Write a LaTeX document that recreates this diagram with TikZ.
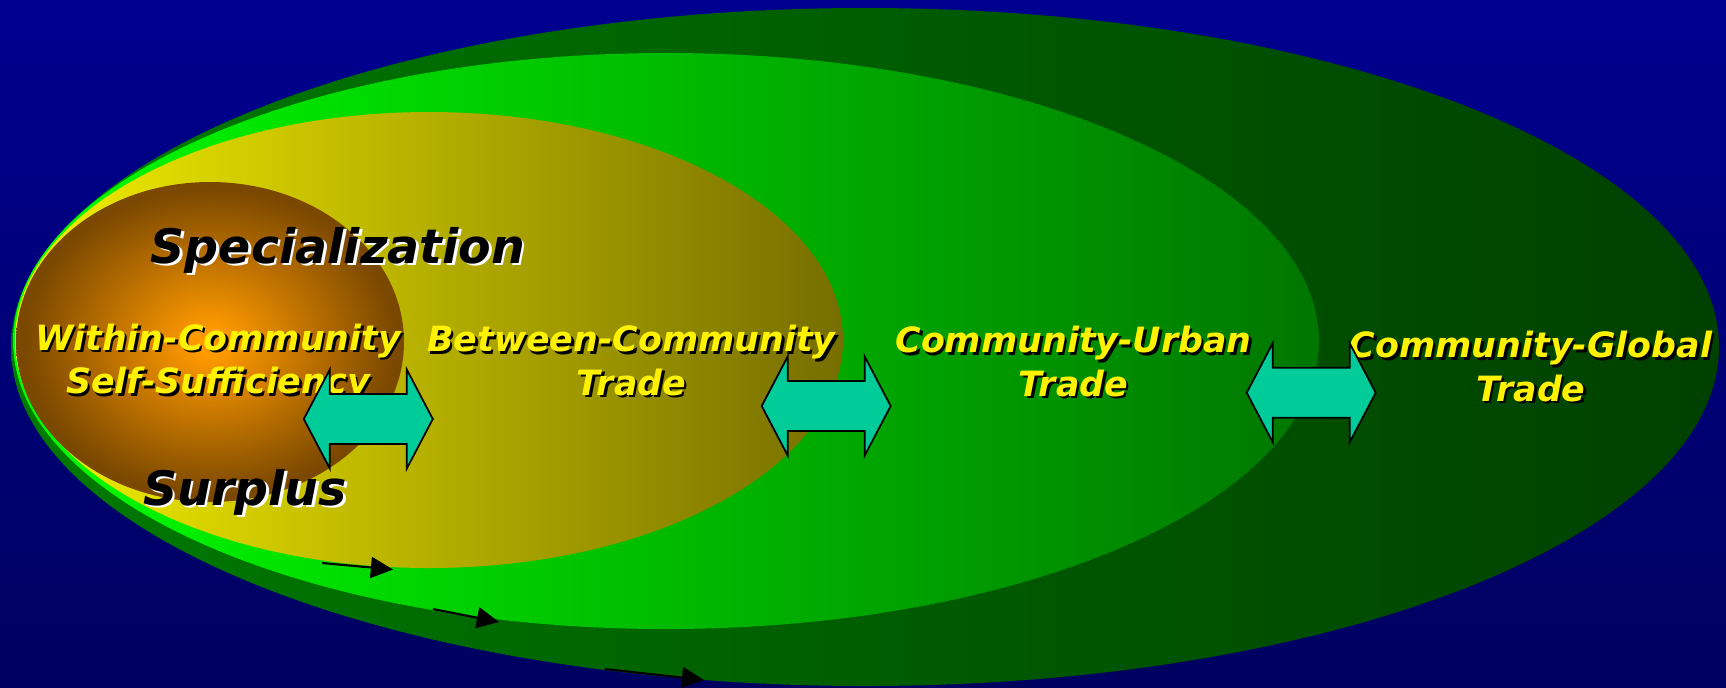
\documentclass[tikz,border=0pt]{standalone}
\usepackage{fontspec}
\usetikzlibrary{arrows.meta}
\newfontfamily\vfont{DejaVu Sans}
\definecolor{bgtop}{RGB}{0,0,144}
\definecolor{bgbot}{RGB}{0,0,96}
\definecolor{gOneL}{RGB}{0,122,0}
\definecolor{gOneR}{RGB}{0,64,0}
\definecolor{gTwoL}{RGB}{0,255,0}
\definecolor{gTwoR}{RGB}{0,118,0}
\definecolor{yThreeL}{RGB}{245,240,0}
\definecolor{yThreeR}{RGB}{118,110,0}
\definecolor{orc}{RGB}{255,154,0}
\definecolor{brn}{RGB}{122,72,0}
\definecolor{tealfill}{RGB}{0,204,153}
\pgfdeclareradialshading{brownball}{\pgfpoint{0bp}{0bp}}{color(0bp)=(orc); color(2bp)=(orc); color(24bp)=(brn); color(25bp)=(brn); color(50bp)=(brn)}
\newcommand{\tradearrow}[2]{%
  \draw[tradearr, shift={(#1,#2)}] (-64.5,0) -- (-38.5,-49.5) -- (-38.5,-25) -- (38.5,-25) -- (38.5,-49.5) -- (64.5,0) -- (38.5,49.5) -- (38.5,25) -- (-38.5,25) -- (-38.5,49.5) -- cycle;}
\tikzset{
  lbl/.style={font=\vfont\bfseries\itshape\fontsize{9.9}{12.4}\selectfont, text=yellow, align=center, text width=170pt, anchor=base, inner sep=0pt},
  lblsh/.style={lbl, text=black},
  bigtxt/.style={font=\vfont\bfseries\itshape\fontsize{13.5}{16}\selectfont, text=black, anchor=base, inner sep=0pt},
  bigsh/.style={bigtxt, text=white},
  tradearr/.style={draw=black, line width=0.5pt, fill=tealfill, line join=miter},
  flow/.style={draw=black, line width=0.6pt, -{Triangle[length=6.3pt,width=6pt]}}
}
\begin{document}
\begin{tikzpicture}[x=0.01cm,y=-0.01cm]
\shade[top color=bgtop,bottom color=bgbot] (0,0) rectangle (1726,687);
\useasboundingbox (0,0) rectangle (1726,687);
% nested ellipses
\shade[left color=gOneL,right color=gOneR] (865,347) ellipse [x radius=854, y radius=339];
\shade[left color=gTwoL,right color=gTwoR] (666,341) ellipse [x radius=653, y radius=288];
\shade[left color=yThreeL,right color=yThreeR] (429,340) ellipse [x radius=414, y radius=228];
\shade[shading=brownball] (210,342) ellipse [x radius=194, y radius=160];
% big black texts
\node[bigsh] (specS) at (340.5,265.5) {Specialization};
\node[bigtxt] (spec) at (338,263) {Specialization};
\node[bigsh] (surpS) at (247.5,507.5) {Surplus};
\node[bigtxt] (surp) at (245,505) {Surplus};
% yellow labels
\node[lblsh] (withinS) at (220.5,352.5) {Within-Community\\Self-Sufficiency};
\node[lbl] (within) at (218,350) {Within-Community\\Self-Sufficiency};
\node[lblsh] (betweenS) at (634,354) {Between-Community\\Trade};
\node[lbl] (between) at (631.5,351.5) {Between-Community\\Trade};
\node[lblsh] (urbanS) at (1076,355) {Community-Urban\\Trade};
\node[lbl] (urban) at (1073.5,352.5) {Community-Urban\\Trade};
\node[lblsh] (globalS) at (1533.5,360) {Community-Global\\Trade};
\node[lbl] (global) at (1531,357.5) {Community-Global\\Trade};
% double block arrows
\tradearrow{368.3}{419}
\tradearrow{826.2}{406}
\tradearrow{1311.2}{392.7}
% surplus flow arrows
\coordinate (f1a) at (322,563);
\coordinate (f1b) at (393,569.5);
\coordinate (f2a) at (433,609);
\coordinate (f2b) at (499,622);
\coordinate (f3a) at (605,669);
\coordinate (f3b) at (704,680);
\draw[flow] (f1a) -- (f1b);
\draw[flow] (f2a) -- (f2b);
\draw[flow] (f3a) -- (f3b);
\end{tikzpicture}
\end{document}
